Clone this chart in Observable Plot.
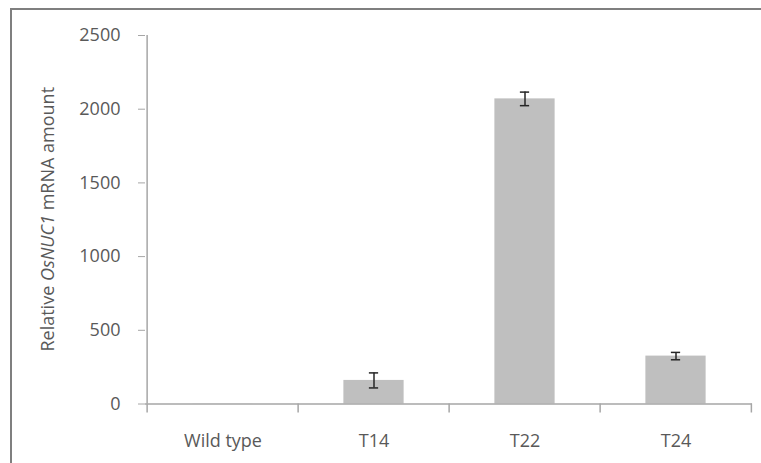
<!DOCTYPE html>
<html>
<head>
<meta charset="utf-8">
<script src="https://cdn.jsdelivr.net/npm/d3@7"></script>
<script src="https://cdn.jsdelivr.net/npm/@observablehq/plot@0.6"></script>
<style>
  html, body { margin: 0; padding: 0; background: #fff; overflow: hidden; }
  #wrap { position: relative; width: 761px; height: 463px; }
  #frame { position: absolute; left: 10px; top: 8px; width: 1000px; height: 1000px;
           border-left: 2px solid #7f7f7f; border-top: 2px solid #7f7f7f; pointer-events: none; }
</style>
</head>
<body>
<div id="wrap"><div id="chart"></div><div id="frame"></div></div>
<script>
const categories = ["Wild type", "T14", "T22", "T24"];
const values = [1, 160, 2070, 325];
const errors = [0, 51, 46, 25];
const yTicks = [0, 500, 1000, 1500, 2000, 2500];

const data = categories.map((c, i) => ({cat: c, v: values[i], e: errors[i]}));
const errData = data.filter(d => d.e > 0);
const last = categories[categories.length - 1];

const W = 761, H = 463;
const mL = 145, mR = 9, mT = 35, mB = 59.5;
const step = (W - mL - mR) / categories.length;
const barW = 61, capW = 10;

const fontFamily = "'Open Sans', sans-serif";
const gray = "#595959";
const axisGray = "#a6a6a6";

const chart = Plot.plot({
  width: W, height: H,
  marginLeft: mL, marginRight: mR, marginTop: mT, marginBottom: mB,
  style: {fontFamily, fontSize: "18px", color: gray, background: "transparent"},
  x: {type: "band", domain: categories, padding: 0, align: 0.5},
  y: {domain: [0, 2500]},
  marks: [
    Plot.barY(data, {x: "cat", y: "v", fill: "#bfbfbf", insetLeft: (step - barW) / 2, insetRight: (step - barW) / 2}),
    Plot.ruleY([0], {stroke: axisGray, strokeWidth: 1.5}),
    Plot.ruleX(categories, {x: d => d, y1: 0, y2: 0, dx: -step / 2, insetBottom: -9, stroke: axisGray, strokeWidth: 1.5}),
    Plot.ruleX([last], {x: d => d, y1: 0, y2: 0, dx: step / 2 - 0.5, insetBottom: -9, stroke: axisGray, strokeWidth: 1.5}),
    Plot.ruleX(errData, {x: "cat", y1: d => d.v - d.e, y2: d => d.v + d.e, stroke: "#262626", strokeWidth: 1.5}),
    Plot.tickY(errData, {x: "cat", y: d => d.v - d.e, stroke: "#262626", strokeWidth: 1.5, insetLeft: (step - capW) / 2, insetRight: (step - capW) / 2}),
    Plot.tickY(errData, {x: "cat", y: d => d.v + d.e, stroke: "#262626", strokeWidth: 1.5, insetLeft: (step - capW) / 2, insetRight: (step - capW) / 2}),
    Plot.axisY({ticks: yTicks, tickSize: 7, tickPadding: 18, stroke: axisGray, label: null, tickFormat: d => String(d), fill: gray}),
    Plot.axisX({tickSize: 0, tickPadding: 30, label: null, fill: gray}),
    Plot.ruleX([0], {x: () => categories[0], dx: -step / 2, y1: 0, y2: 2500, stroke: axisGray, strokeWidth: 1.5})
  ]
});
document.getElementById("chart").appendChild(chart);

// Y axis title with italic gene name
const svg = d3.select(chart);
const t = svg.append("text")
  .attr("transform", `translate(47, ${(mT + (H - mB)) / 2}) rotate(-90)`)
  .attr("text-anchor", "middle")
  .attr("dominant-baseline", "central")
  .attr("fill", gray)
  .style("font-family", fontFamily)
  .style("font-size", "18px");
t.append("tspan").text("Relative ");
t.append("tspan").attr("font-style", "italic").text("OsNUC1");
t.append("tspan").text(" mRNA amount");
</script>
</body>
</html>
